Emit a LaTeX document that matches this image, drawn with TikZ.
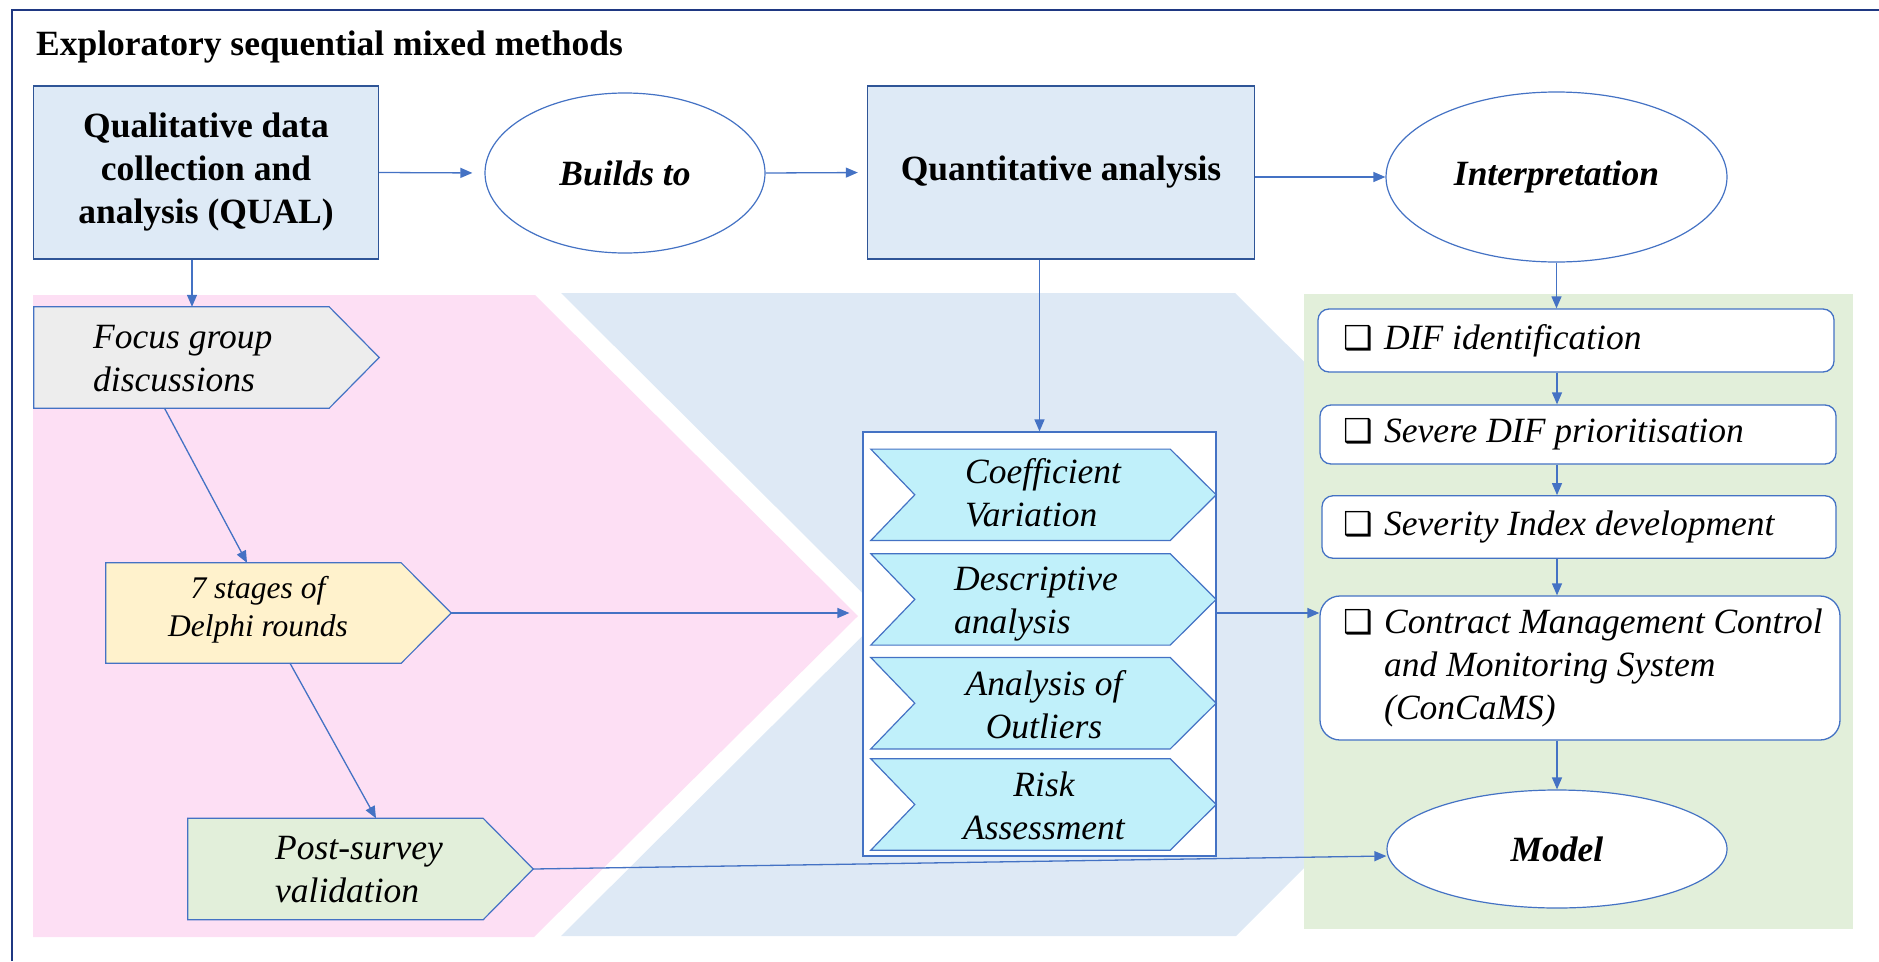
\documentclass[tikz,border=0pt]{standalone}
\usepackage{fontspec}
\setmainfont{Liberation Serif}
\newfontfamily\symfont{DejaVu Sans}
\usetikzlibrary{shapes.geometric,arrows.meta}

\definecolor{frameblue}{RGB}{31,56,130}
\definecolor{lineblue}{RGB}{68,114,196}
\definecolor{boxborder}{RGB}{47,85,151}
\definecolor{pinkbg}{RGB}{253,223,244}
\definecolor{bluebg}{RGB}{222,233,245}
\definecolor{greenbg}{RGB}{226,239,218}
\definecolor{qualfill}{RGB}{222,234,246}
\definecolor{greyfill}{RGB}{237,237,237}
\definecolor{yellowfill}{RGB}{255,242,204}
\definecolor{cyanfill}{RGB}{192,240,250}

% shadowed check box used as a bullet
\newcommand{\cbx}{\makebox[24pt][l]{\symfont\fontsize{33}{33}\selectfont ❑}}

\tikzset{
  sqbox/.style={draw=boxborder, line width=1.4pt, fill=qualfill, rectangle, inner sep=0,
    align=center, font=\bfseries\fontsize{35.5}{43}\selectfont},
  oval/.style={draw=lineblue, line width=1.2pt, fill=white, ellipse, inner sep=0,
    font=\bfseries\itshape\fontsize{35.5}{43}\selectfont},
  holder/.style={rectangle, inner sep=0, draw=none},
  pent/.style={draw=lineblue, line width=1.2pt},
  itx/.style={inner sep=0, font=\itshape\fontsize{35.5}{43}\selectfont},
  stepbox/.style={draw=lineblue, line width=1.3pt, fill=white, rounded corners=11pt, rectangle, inner sep=0},
  flow/.style={draw=lineblue, line width=1.3pt, -{Triangle[length=12pt,width=10pt]}}
}

\begin{document}
\begin{tikzpicture}[x=1pt,y=-1pt]
\useasboundingbox (0,0) rectangle (1879,961);

% coloured phase bands
\fill[pinkbg] (33,295) -- (535,295) -- (858,616) -- (534,937) -- (33,937) -- cycle;
\fill[bluebg] (561,293) -- (1235,293) -- (1558,614.5) -- (1236,936) -- (561,936) -- (884,614.5) -- cycle;
\fill[greenbg] (1304,294) rectangle (1853,929);

% outer frame (top and left edges)
\draw[frameblue, line width=2pt] (12,961) -- (12,10) -- (1879,10);

% title
\node[anchor=base west, inner sep=0, font=\bfseries\fontsize{35.5}{43}\selectfont] (title) at (36,55)
  {Exploratory sequential mixed methods};

% top row
\node[sqbox, minimum width=345pt, minimum height=173pt] (qual) at (206,172.5)
  {Qualitative data\\collection and\\analysis (QUAL)};
\node[oval, minimum width=280pt, minimum height=160pt] (builds) at (625,173) {Builds to};
\node[sqbox, minimum width=387pt, minimum height=173pt] (quant) at (1061,172.5) {Quantitative analysis};
\node[oval, minimum width=341pt, minimum height=170pt] (interp) at (1556.5,177) {Interpretation};

% qualitative phase: pentagon arrows
\node[holder, minimum width=345pt, minimum height=101pt] (focus) at (206.5,357.5) {};
\node[holder, minimum width=345pt, minimum height=100pt] (seven) at (278.5,613) {};
\node[holder, minimum width=345pt, minimum height=101pt] (post) at (360.5,869) {};
\draw[pent, fill=greyfill] (focus.north west) -- ([xshift=-50pt]focus.north east) -- (focus.east)
  -- ([xshift=-50pt]focus.south east) -- (focus.south west) -- cycle;
\draw[pent, fill=yellowfill] (seven.north west) -- ([xshift=-50pt]seven.north east) -- (seven.east)
  -- ([xshift=-50pt]seven.south east) -- (seven.south west) -- cycle;
\draw[pent, fill=greenbg] (post.north west) -- ([xshift=-50pt]post.north east) -- (post.east)
  -- ([xshift=-50pt]post.south east) -- (post.south west) -- cycle;
\node[itx, anchor=west, align=left] (focusT) at (93,359) {Focus group\\discussions};
\node[inner sep=0, align=center, font=\itshape\fontsize{31.5}{38}\selectfont] (sevenT) at (258,610)
  {7 stages of\\Delphi rounds};
\node[itx, anchor=west, align=left] (postT) at (275,870) {Post-survey\\validation};

% quantitative phase: container with chevrons
\node[holder, draw=lineblue, line width=1.2pt, fill=white, minimum width=353pt, minimum height=424pt]
  (methods) at (1039.5,644) {};
\foreach \nm/\cy in {cA/494.8, cB/599.4, cC/703.2, cD/804.5}{
  \node[holder, minimum width=345pt, minimum height=91pt] (\nm) at (1043.5,\cy) {};
  \draw[pent, fill=cyanfill] (\nm.north west) -- ([xshift=-46pt]\nm.north east) -- (\nm.east)
    -- ([xshift=-46pt]\nm.south east) -- (\nm.south west) -- ([xshift=44pt]\nm.west) -- cycle;
}
\node[itx, anchor=west, align=left] (cAT) at (965,493) {Coefficient\\Variation};
\node[itx, anchor=west, align=left] (cBT) at (954,604) {Descriptive\\analysis};
\node[itx, align=center] (cCT) at (1044,705) {Analysis of\\Outliers};
\node[itx, align=center] (cDT) at (1044,806) {Risk\\Assessment};

% interpretation phase
\node[stepbox, minimum width=516pt, minimum height=63pt] (dif) at (1576,340.5) {};
\node[stepbox, minimum width=516pt, minimum height=59pt] (severe) at (1578,434.5) {};
\node[stepbox, minimum width=514pt, minimum height=62.5pt] (sindex) at (1579,527) {};
\node[stepbox, rounded corners=20pt, minimum width=520pt, minimum height=144pt] (concams) at (1580,668) {};
\node[itx, anchor=west] (difT) at (1343,340.5) {\cbx\hspace{17pt}DIF identification};
\node[itx, anchor=west] (severeT) at (1343,434.5) {\cbx\hspace{17pt}Severe DIF prioritisation};
\node[itx, anchor=west] (sindexT) at (1343,527) {\cbx\hspace{17pt}Severity Index development};
\node[itx, anchor=west] (concamsT) at (1343,668)
  {\begin{tabular}{@{}l@{\hspace{17pt}}l@{}}\cbx & Contract Management Control\\ & and Monitoring System\\ & (ConCaMS)\end{tabular}};
\node[oval, minimum width=340pt, minimum height=118pt] (model) at (1557,849) {Model};

% connectors
\draw[flow, shorten >=12pt] (qual.east) -- (builds.west);
\draw[flow, shorten >=9pt] (builds.east) -- (quant.west);
\draw[flow] (quant.east |- interp.west) -- (interp.west);
\draw[flow] ([xshift=-14pt]qual.south) -- ([xshift=-14pt]qual.south |- focus.north);
\draw[flow] ([xshift=-42pt]focus.south) -- ([xshift=-31.5pt]seven.north);
\draw[flow] ([xshift=11.5pt]seven.south) -- ([xshift=15.5pt]post.north);
\draw[flow, shorten >=13pt] (seven.east) -- (seven.east -| methods.west);
\draw[flow] (methods.north |- quant.south) -- (methods.north);
\draw[flow] (methods.east |- seven.east) -- (concams.west |- seven.east);
\draw[flow] (post.east) -- ([yshift=-7pt]model.west);
\draw[flow] (interp.south) -- (interp.south |- dif.north);
\draw[flow] (dif.south -| model.north) -- (severe.north -| model.north);
\draw[flow] (severe.south -| model.north) -- (sindex.north -| model.north);
\draw[flow] (sindex.south -| model.north) -- (concams.north -| model.north);
\draw[flow] (concams.south -| model.north) -- (model.north);
\end{tikzpicture}
\end{document}
